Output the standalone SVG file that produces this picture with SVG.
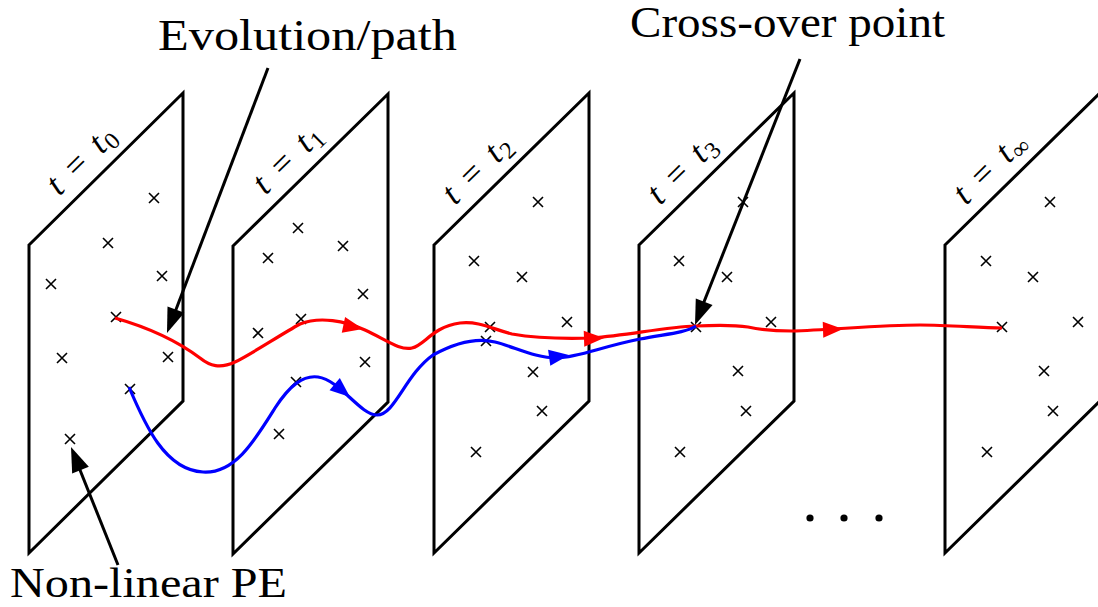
<svg xmlns="http://www.w3.org/2000/svg" xmlns:xlink="http://www.w3.org/1999/xlink" width="1098" height="607" viewBox="0 0 1098 607">
<style>
.plane{fill:none;stroke:#000;stroke-width:3;stroke-linejoin:miter}
.cr{fill:none;stroke:#000;stroke-width:1.6}
.lbl{font-family:"Liberation Serif","DejaVu Serif",serif;font-size:35px;fill:#000}
.it{font-style:italic}
.sub{font-size:24px}
.ann{font-family:"Liberation Serif","DejaVu Serif",serif;font-size:44px;fill:#000}
.red{fill:none;stroke:#f00;stroke-width:3.2}
.blue{fill:none;stroke:#00f;stroke-width:3.2}
.blk{fill:none;stroke:#000;stroke-width:3}
</style>
<defs>
<path id="x" class="cr" d="M-5,-5 L5,5 M-5,5 L5,-5"/>
<path id="ah" d="M0,0 L-20,-8 L-20,8 Z"/>
<path id="bh" d="M0,0 L-25,-9 L-25,9 Z"/>
</defs>
<rect width="1098" height="607" fill="#fff"/>

<g id="plane0">
<polygon class="plane" points="29,245 183,93 183,401 29,553"/>
<g transform="translate(29,245) rotate(-44.6)" class="lbl">
<text x="60.3" y="-13" class="it" text-anchor="middle">t</text>
<text x="89.9" y="-13" text-anchor="middle">=</text>
<text x="119.8" y="-13" class="it" text-anchor="middle">t</text>
<text x="126.1" y="-8" class="sub">0</text>
</g>
<use xlink:href="#x" x="154" y="198"/><use xlink:href="#x" x="108" y="243"/><use xlink:href="#x" x="162" y="276"/>
<use xlink:href="#x" x="51" y="284"/><use xlink:href="#x" x="116" y="317"/><use xlink:href="#x" x="62" y="358"/>
<use xlink:href="#x" x="168" y="357"/><use xlink:href="#x" x="130" y="389"/><use xlink:href="#x" x="70" y="439"/>
</g>

<g id="plane1">
<polygon class="plane" points="233,246 388,94 388,402 233,554"/>
<g transform="translate(233,246) rotate(-44.6)" class="lbl">
<text x="63.3" y="-13" class="it" text-anchor="middle">t</text>
<text x="92.9" y="-13" text-anchor="middle">=</text>
<text x="122.8" y="-13" class="it" text-anchor="middle">t</text>
<text x="129.1" y="-8" class="sub">1</text>
</g>
<use xlink:href="#x" x="298" y="228"/><use xlink:href="#x" x="268" y="258"/><use xlink:href="#x" x="343" y="246"/>
<use xlink:href="#x" x="363" y="294"/><use xlink:href="#x" x="301" y="319"/><use xlink:href="#x" x="258" y="333"/>
<use xlink:href="#x" x="365" y="362"/><use xlink:href="#x" x="296" y="382"/><use xlink:href="#x" x="279" y="434"/>
</g>

<g id="plane2">
<polygon class="plane" points="434,245 589,93 589,401 434,553"/>
<g transform="translate(434,245) rotate(-44.6)" class="lbl">
<text x="47.3" y="-13" class="it" text-anchor="middle">t</text>
<text x="76.9" y="-13" text-anchor="middle">=</text>
<text x="106.8" y="-13" class="it" text-anchor="middle">t</text>
<text x="113.1" y="-8" class="sub">2</text>
</g>
<use xlink:href="#x" x="538" y="202"/><use xlink:href="#x" x="474" y="261"/><use xlink:href="#x" x="522" y="277"/>
<use xlink:href="#x" x="567" y="322"/><use xlink:href="#x" x="490" y="327"/><use xlink:href="#x" x="486" y="341"/>
<use xlink:href="#x" x="533" y="372"/><use xlink:href="#x" x="542" y="411"/><use xlink:href="#x" x="476" y="452"/>
</g>

<g id="plane3">
<polygon class="plane" points="639,245 794,93 794,401 639,553"/>
<g transform="translate(639,245) rotate(-44.6)" class="lbl">
<text x="47.3" y="-13" class="it" text-anchor="middle">t</text>
<text x="76.9" y="-13" text-anchor="middle">=</text>
<text x="106.8" y="-13" class="it" text-anchor="middle">t</text>
<text x="113.1" y="-8" class="sub">3</text>
</g>
<use xlink:href="#x" x="743" y="202"/><use xlink:href="#x" x="679" y="261"/><use xlink:href="#x" x="727" y="277"/>
<use xlink:href="#x" x="771" y="322"/><use xlink:href="#x" x="696" y="327"/><use xlink:href="#x" x="738" y="371"/>
<use xlink:href="#x" x="746" y="411"/><use xlink:href="#x" x="680" y="452"/>
</g>

<g id="plane4">
<polygon class="plane" points="945,245 1100,93 1100,401 945,553"/>
<g transform="translate(945,245) rotate(-44.6)" class="lbl">
<text x="47.3" y="-13" class="it" text-anchor="middle">t</text>
<text x="76.9" y="-13" text-anchor="middle">=</text>
<text x="106.8" y="-13" class="it" text-anchor="middle">t</text>
<text x="113.1" y="-8" class="sub">∞</text>
</g>
<use xlink:href="#x" x="1050" y="202"/><use xlink:href="#x" x="986" y="261"/><use xlink:href="#x" x="1033" y="277"/>
<use xlink:href="#x" x="1078" y="322"/><use xlink:href="#x" x="1002" y="327"/><use xlink:href="#x" x="1044" y="371"/>
<use xlink:href="#x" x="1053" y="411"/><use xlink:href="#x" x="987" y="452"/>
</g>

<g id="dots">
<circle cx="810" cy="518" r="3.6"/><circle cx="844" cy="518" r="3.6"/><circle cx="879" cy="518" r="3.6"/>
</g>

<g id="connectors">
<path id="redpath" class="red" d="M115,318 C150,328 180,343 200,358 C210,366 220,369 235,362 C250,355 280,335 300,324 C320,316 345,321 365,330 C385,339 400,351 412,348 C425,345 432,327 460,323 C480,321 492,329 512,334 C535,338 560,339 592,338 C630,335 665,327 696,326 C718,325 735,325 748,327 C762,330 772,331 792,331 C830,330 880,325 920,325 C950,325 980,328 1002,328"/>
<path id="bluepath" class="blue" d="M129,387 C145,425 165,470 203,472 C235,474 255,440 275,408 C290,385 303,375 318,377 C340,380 360,415 377,415 C395,415 405,375 433,355 C455,343 475,337 495,342 C515,347 535,358 557,358 C580,357 600,347 640,339 C665,334 685,333 696,326"/>
<use xlink:href="#ah" fill="#f00" transform="translate(363,329) rotate(12)"/>
<use xlink:href="#ah" fill="#f00" transform="translate(604,338) rotate(-2)"/>
<use xlink:href="#ah" fill="#f00" transform="translate(843,329) rotate(-2)"/>
<use xlink:href="#ah" fill="#00f" transform="translate(350,397) rotate(40)"/>
<use xlink:href="#ah" fill="#00f" transform="translate(569,355) rotate(-8)"/>
<g id="arrow-evolution">
<line class="blk" x1="268" y1="68" x2="172" y2="320"/>
<use xlink:href="#bh" fill="#000" transform="translate(167,333) rotate(110.9)"/>
</g>
<g id="arrow-crossover">
<line class="blk" x1="800" y1="59" x2="700" y2="312"/>
<use xlink:href="#bh" fill="#000" transform="translate(695,325) rotate(111.5)"/>
</g>
<g id="arrow-pe">
<line class="blk" x1="118" y1="565" x2="76" y2="460"/>
<use xlink:href="#bh" fill="#000" transform="translate(71,447) rotate(247.7)"/>
</g>
</g>

<g id="annotations">
<text class="ann" x="158" y="50" textLength="299" lengthAdjust="spacingAndGlyphs">Evolution/path</text>
<text class="ann" x="630" y="37" textLength="315" lengthAdjust="spacingAndGlyphs">Cross-over point</text>
<text class="ann" x="10" y="597" font-size="42" style="font-size:42px" textLength="277" lengthAdjust="spacingAndGlyphs">Non-linear PE</text>
</g>
</svg>
